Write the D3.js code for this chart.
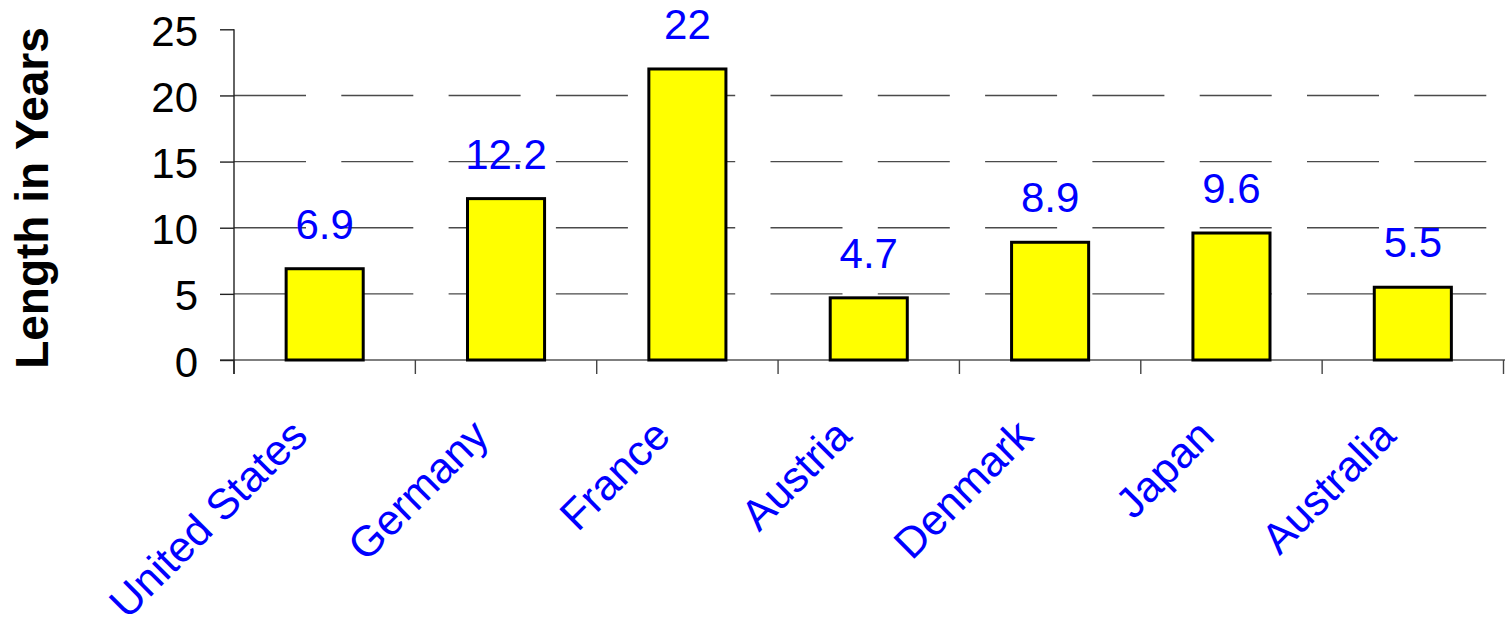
<!DOCTYPE html>
<html>
<head>
<meta charset="utf-8">
<script src="https://cdn.jsdelivr.net/npm/d3@7"></script>
<style>
  body { margin: 0; background: #fff; }
  svg { display: block; font-family: "Liberation Sans", Arial, sans-serif; }
</style>
</head>
<body>
<div id="chart"></div>
<script>
"use strict"

// data
var countries = ['United States', 'Germany', 'France', 'Austria', 'Denmark', 'Japan', 'Australia'];
var years = [6.9, 12.2, 22, 4.7, 8.9, 9.6, 5.5];
var yTicks = [0, 5, 10, 15, 20, 25];
var gridTicks = [5, 10, 15, 20];

var width = 1509, height = 624;
var svg = d3.select("#chart")
    .append("svg")
    .attr("width", width)
    .attr("height", height);

// scales
var x = d3.scaleBand()
    .domain(countries)
    .range([234, 1503.5]);
var y = d3.scaleLinear()
    .domain([0, 25])
    .range([360, 29.3]);

// dashed gridlines
svg.append("g")
    .selectAll("line")
    .data(gridTicks)
    .enter()
    .append("line")
    .attr("x1", 234)
    .attr("x2", 1503.5)
    .attr("y1", function(d) { return y(d); })
    .attr("y2", function(d) { return y(d); })
    .attr("stroke", "#4a4a4a")
    .attr("stroke-width", 1.4)
    .attr("stroke-dasharray", "72,35.3");

// x axis baseline
svg.append("line")
    .attr("x1", 220).attr("x2", 1505)
    .attr("y1", y(0)).attr("y2", y(0))
    .attr("stroke", "#555")
    .attr("stroke-width", 1.4);

// x ticks on band boundaries
var edges = countries.map(function(d) { return x(d); }).concat([x.range()[1]]);
svg.append("g")
    .selectAll("line")
    .data(edges)
    .enter()
    .append("line")
    .attr("x1", function(d) { return d; })
    .attr("x2", function(d) { return d; })
    .attr("y1", y(0))
    .attr("y2", y(0) + 14)
    .attr("stroke", "#444")
    .attr("stroke-width", 1.4);

// y axis
var yAxis = svg.append("g")
    .attr("transform", "translate(234,0)")
    .call(d3.axisLeft(y).tickValues(yTicks).tickSize(14).tickSizeOuter(0).tickPadding(22));
yAxis.select(".domain").remove();
yAxis.selectAll("line").attr("stroke", "#222").attr("stroke-width", 1.4);
yAxis.selectAll("text")
    .attr("dy", null)
    .attr("y", 16)
    .style("font-size", "42px")
    .style("font-family", "'Liberation Sans', Arial, sans-serif")
    .attr("fill", "#000");
svg.append("line")
    .attr("x1", 234).attr("x2", 234)
    .attr("y1", y(25)).attr("y2", y(0) + 14)
    .attr("stroke", "#222")
    .attr("stroke-width", 1.4);

// bars
var barFrac = 0.425;
svg.append("g")
    .selectAll("rect")
    .data(countries)
    .enter()
    .append("rect")
    .attr("x", function(d) { return x(d) + x.bandwidth() * (1 - barFrac) / 2; })
    .attr("y", function(d, i) { return y(years[i]); })
    .attr("width", x.bandwidth() * barFrac)
    .attr("height", function(d, i) { return y(0) - y(years[i]); })
    .attr("fill", "#ffff00")
    .attr("stroke", "#000")
    .attr("stroke-width", 3);

// value labels
svg.append("g")
    .selectAll("text")
    .data(countries)
    .enter()
    .append("text")
    .attr("x", function(d) { return x(d) + x.bandwidth() / 2; })
    .attr("y", function(d, i) { return y(years[i]) - 30; })
    .attr("text-anchor", "middle")
    .attr("fill", "#0000ff")
    .style("font-size", "42px")
    .text(function(d, i) { return years[i]; });

// category labels
svg.append("g")
    .selectAll("text")
    .data(countries)
    .enter()
    .append("text")
    .attr("transform", function(d) {
        return "translate(" + (x(d) + x.bandwidth() / 2 - 15) + ",438)rotate(-45)";
    })
    .attr("text-anchor", "end")
    .attr("fill", "#0000ff")
    .style("font-size", "43px")
    .text(function(d) { return d; });

// y title
svg.append("text")
    .attr("transform", "translate(48,198)rotate(-90)")
    .attr("text-anchor", "middle")
    .style("font-size", "46px")
    .style("font-weight", "bold")
    .attr("fill", "#000")
    .text("Length in Years");
</script>
</body>
</html>
